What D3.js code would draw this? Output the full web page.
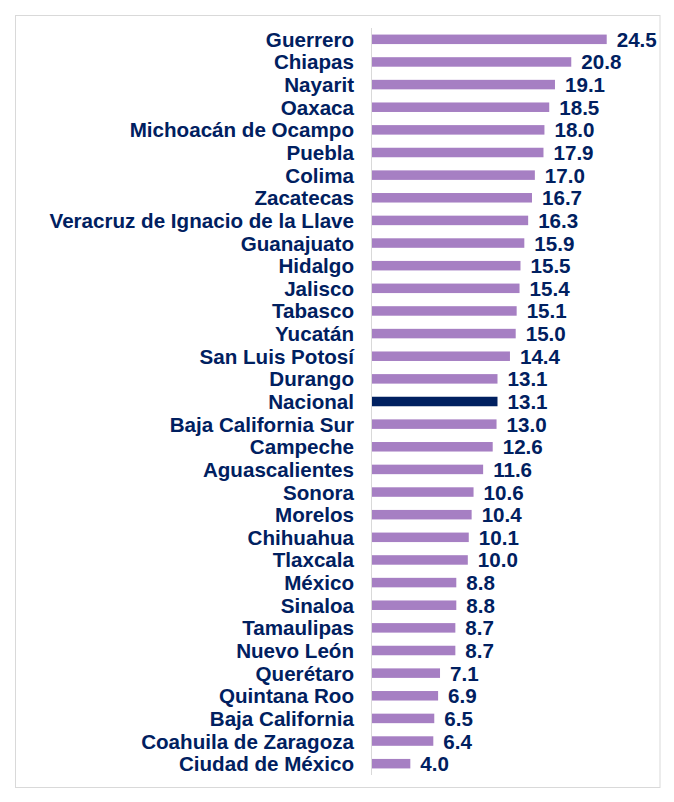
<!DOCTYPE html>
<html>
<head>
<meta charset="utf-8">
<script src="https://cdn.jsdelivr.net/npm/d3@7"></script>
<style>
  body { margin: 0; background: #fff; }
  svg { display: block; }
</style>
</head>
<body>
<div id="chart"></div>
<script>
const states = [
  "Guerrero", "Chiapas", "Nayarit", "Oaxaca", "Michoacán de Ocampo", "Puebla",
  "Colima", "Zacatecas", "Veracruz de Ignacio de la Llave", "Guanajuato", "Hidalgo",
  "Jalisco", "Tabasco", "Yucatán", "San Luis Potosí", "Durango", "Nacional",
  "Baja California Sur", "Campeche", "Aguascalientes", "Sonora", "Morelos",
  "Chihuahua", "Tlaxcala", "México", "Sinaloa", "Tamaulipas", "Nuevo León",
  "Querétaro", "Quintana Roo", "Baja California", "Coahuila de Zaragoza", "Ciudad de México"
];
const values = [
  24.5, 20.8, 19.1, 18.5, 18.0, 17.9,
  17.0, 16.7, 16.3, 15.9, 15.5,
  15.4, 15.1, 15.0, 14.4, 13.1, 13.1,
  13.0, 12.6, 11.6, 10.6, 10.4,
  10.1, 10.0, 8.8, 8.8, 8.7, 8.7,
  7.1, 6.9, 6.5, 6.4, 4.0
];
const highlight = "Nacional";

const data = states.map((s, i) => ({ name: s, value: values[i] }));

const width = 674, height = 802;
const svg = d3.select("#chart").append("svg")
  .attr("width", width)
  .attr("height", height);

svg.append("rect")
  .attr("width", width).attr("height", height)
  .attr("fill", "#fff");

// chart frame
svg.append("rect")
  .attr("x", 15.5).attr("y", 15.5)
  .attr("width", 644.5).attr("height", 772)
  .attr("fill", "none")
  .attr("stroke", "#d9d9d9")
  .attr("stroke-width", 1);

const x = d3.scaleLinear().domain([0, 25]).range([372, 611.5]);
const y = d3.scaleBand().domain(states).range([28, 775]).paddingInner(0.58).paddingOuter(0.29);

const navy = "#002060";
const purple = "#a67fc3";
const font = "'Liberation Sans', Arial, sans-serif";

const g = svg.append("g");

g.selectAll("rect.bar")
  .data(data)
  .join("rect")
  .attr("class", "bar")
  .attr("x", x(0))
  .attr("y", d => y(d.name))
  .attr("width", d => x(d.value) - x(0))
  .attr("height", y.bandwidth())
  .attr("fill", d => d.name === highlight ? navy : purple);

// vertical axis line
svg.append("line")
  .attr("x1", 371.5).attr("x2", 371.5)
  .attr("y1", 28).attr("y2", 775)
  .attr("stroke", "#d9d9d9")
  .attr("stroke-width", 1);

// category labels
g.selectAll("text.cat")
  .data(data)
  .join("text")
  .attr("class", "cat")
  .attr("x", 354)
  .attr("y", d => y(d.name) + y.bandwidth() / 2 + 7.5)
  .attr("text-anchor", "end")
  .attr("font-family", font)
  .attr("font-weight", "bold")
  .attr("font-size", "20.6px")
  .attr("fill", navy)
  .text(d => d.name);

// value labels
g.selectAll("text.val")
  .data(data)
  .join("text")
  .attr("class", "val")
  .attr("x", d => x(d.value) + 10)
  .attr("y", d => y(d.name) + y.bandwidth() / 2 + 7.5)
  .attr("font-family", font)
  .attr("font-weight", "bold")
  .attr("font-size", "20.6px")
  .attr("fill", navy)
  .text(d => d3.format(".1f")(d.value));
</script>
</body>
</html>
